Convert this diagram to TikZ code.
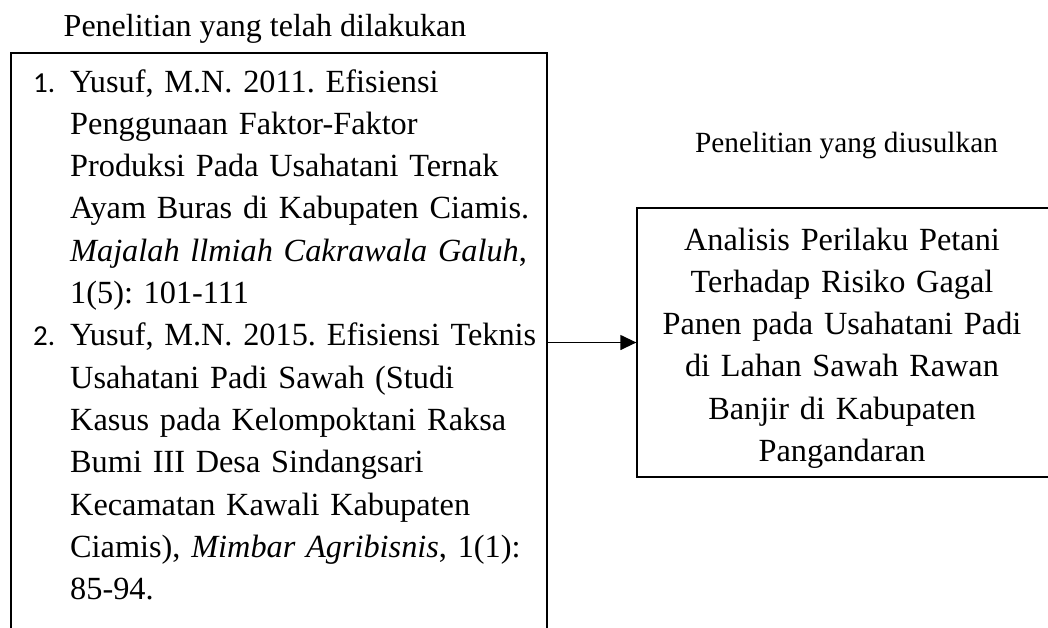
\documentclass[tikz,border=0pt]{standalone}
\usepackage{fontspec}
\setmainfont{Liberation Serif}
\newfontfamily\numfont{Carlito}
\usetikzlibrary{arrows.meta}
\frenchspacing
\tikzset{
  boxframe/.style={draw=black, line width=1.3pt, inner sep=0pt, fill=none},
  bodytext/.style={inner sep=0pt, font=\fontsize{32.3}{42.3}\selectfont},
  titletext/.style={inner sep=0pt},
  flowarrow/.style={line width=1.3pt, -{Triangle[length=16pt,width=15pt]}},
}
\begin{document}
\begin{tikzpicture}[x=1pt, y=-1pt]
\useasboundingbox (0,0) rectangle (1048,627);
\fill[white] (0,0) rectangle (1048,627);
% titles
\node[titletext, font=\fontsize{32}{38}\selectfont, anchor=base] (ttlL) at (265,36) {Penelitian yang telah dilakukan};
\node[titletext, font=\fontsize{29.3}{35}\selectfont, anchor=base] (ttlR) at (846.5,152) {Penelitian yang diusulkan};
% boxes
\node[boxframe, minimum width=536pt, minimum height=647pt] (prev) at (279,376.5) {};
\node[boxframe, minimum width=418pt, minimum height=269pt] (prop) at (846,342.5) {};
% left list
\node[bodytext, font=\numfont\fontsize{29}{42.3}\selectfont, anchor=base west] (n1) at (33,92) {1.};
\node[bodytext, font=\numfont\fontsize{29}{42.3}\selectfont, anchor=base west] (n2) at (33,345.8) {2.};
\node[bodytext, text width=475pt, align=left, anchor=base west] (refs) at (70,92) {%
Yusuf, M.N. 2011. Efisiensi\\
Penggunaan Faktor-Faktor\\
Produksi Pada Usahatani Ternak\\
Ayam Buras di Kabupaten Ciamis.\\
\textit{Majalah llmiah Cakrawala Galuh},\\
1(5): 101-111\\
Yusuf, M.N. 2015. Efisiensi Teknis\\
Usahatani Padi Sawah (Studi\\
Kasus pada Kelompoktani Raksa\\
Bumi III Desa Sindangsari\\
Kecamatan Kawali Kabupaten\\
Ciamis), \textit{Mimbar Agribisnis}, 1(1):\\
85-94.};
% right text
\node[bodytext, text width=400pt, align=center, anchor=base] (proptext) at (842,250) {%
Analisis Perilaku Petani\\
Terhadap Risiko Gagal\\
Panen pada Usahatani Padi\\
di Lahan Sawah Rawan\\
Banjir di Kabupaten\\
Pangandaran};
% arrow
\draw[flowarrow] (prev.east |- prop.west) -- (prop.west);
\end{tikzpicture}
\end{document}
